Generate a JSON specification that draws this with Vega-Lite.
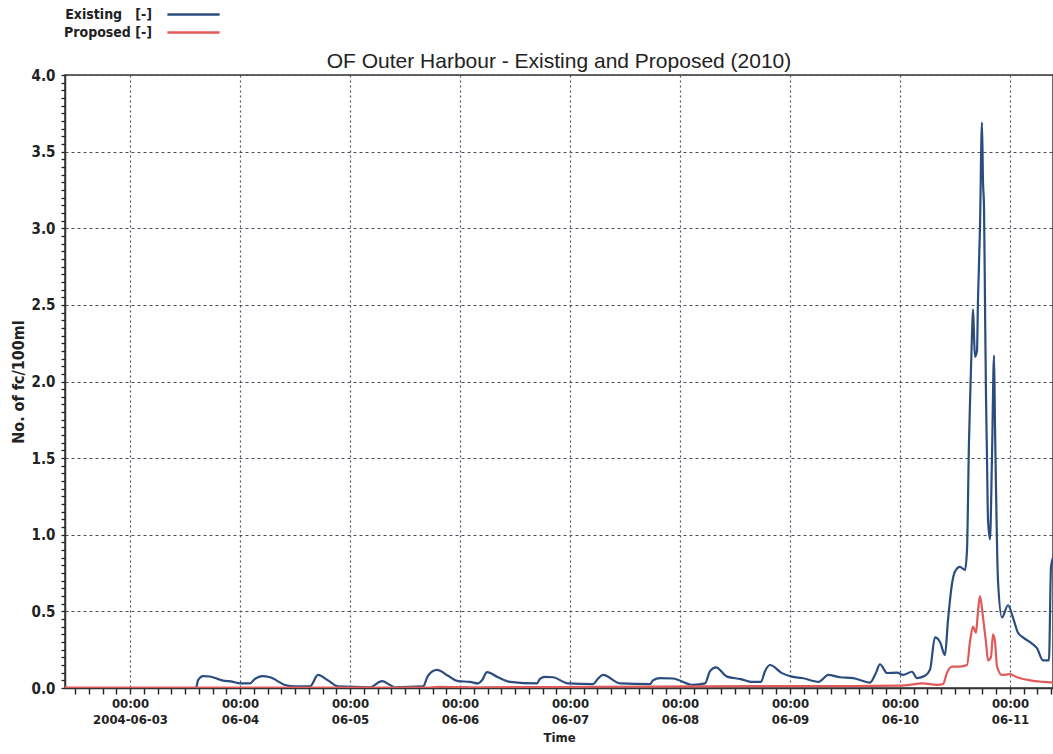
{
  "$schema": "https://vega.github.io/schema/vega-lite/v6.json",
  "width": 988,
  "height": 613,
  "autosize": {"type": "none"},
  "padding": {"left": 65, "top": 75, "right": 0, "bottom": 66},
  "background": "white",
  "config": {
    "view": {"stroke": "#333", "strokeWidth": 1.5},
    "font": "Liberation Sans"
  },
  "title": {
    "text": "OF Outer Harbour - Existing and Proposed (2010)",
    "fontSize": 21,
    "fontWeight": "normal",
    "font": "Liberation Sans",
    "color": "#222",
    "anchor": "middle",
    "offset": -68
  },
  "data": {"values": [
      {"s": "Existing [-]", "t": "2004-06-02T09:49", "v": 0},
      {"s": "Existing [-]", "t": "2004-06-03T14:24", "v": 0},
      {"s": "Existing [-]", "t": "2004-06-03T14:50", "v": 0.05},
      {"s": "Existing [-]", "t": "2004-06-03T15:56", "v": 0.078},
      {"s": "Existing [-]", "t": "2004-06-03T17:27", "v": 0.075},
      {"s": "Existing [-]", "t": "2004-06-03T20:04", "v": 0.05},
      {"s": "Existing [-]", "t": "2004-06-03T22:28", "v": 0.04},
      {"s": "Existing [-]", "t": "2004-06-04T00:00", "v": 0.03},
      {"s": "Existing [-]", "t": "2004-06-04T02:11", "v": 0.03},
      {"s": "Existing [-]", "t": "2004-06-04T03:16", "v": 0.06},
      {"s": "Existing [-]", "t": "2004-06-04T04:48", "v": 0.078},
      {"s": "Existing [-]", "t": "2004-06-04T06:33", "v": 0.07},
      {"s": "Existing [-]", "t": "2004-06-04T09:49", "v": 0.02},
      {"s": "Existing [-]", "t": "2004-06-04T12:00", "v": 0.01},
      {"s": "Existing [-]", "t": "2004-06-04T15:16", "v": 0.01},
      {"s": "Existing [-]", "t": "2004-06-04T17:01", "v": 0.085},
      {"s": "Existing [-]", "t": "2004-06-04T19:12", "v": 0.05},
      {"s": "Existing [-]", "t": "2004-06-04T21:23", "v": 0.01},
      {"s": "Existing [-]", "t": "2004-06-05T04:22", "v": 0.005},
      {"s": "Existing [-]", "t": "2004-06-05T06:59", "v": 0.045},
      {"s": "Existing [-]", "t": "2004-06-05T08:44", "v": 0.02},
      {"s": "Existing [-]", "t": "2004-06-05T09:49", "v": 0.005},
      {"s": "Existing [-]", "t": "2004-06-05T15:56", "v": 0.01},
      {"s": "Existing [-]", "t": "2004-06-05T17:01", "v": 0.08},
      {"s": "Existing [-]", "t": "2004-06-05T18:59", "v": 0.118},
      {"s": "Existing [-]", "t": "2004-06-05T21:23", "v": 0.08},
      {"s": "Existing [-]", "t": "2004-06-05T23:34", "v": 0.045},
      {"s": "Existing [-]", "t": "2004-06-06T02:11", "v": 0.04},
      {"s": "Existing [-]", "t": "2004-06-06T03:56", "v": 0.03},
      {"s": "Existing [-]", "t": "2004-06-06T04:48", "v": 0.05},
      {"s": "Existing [-]", "t": "2004-06-06T05:53", "v": 0.104},
      {"s": "Existing [-]", "t": "2004-06-06T08:17", "v": 0.07},
      {"s": "Existing [-]", "t": "2004-06-06T10:55", "v": 0.04},
      {"s": "Existing [-]", "t": "2004-06-06T16:48", "v": 0.03},
      {"s": "Existing [-]", "t": "2004-06-06T17:27", "v": 0.06},
      {"s": "Existing [-]", "t": "2004-06-06T18:33", "v": 0.072},
      {"s": "Existing [-]", "t": "2004-06-06T20:17", "v": 0.07},
      {"s": "Existing [-]", "t": "2004-06-06T23:34", "v": 0.03},
      {"s": "Existing [-]", "t": "2004-06-07T05:01", "v": 0.025},
      {"s": "Existing [-]", "t": "2004-06-07T06:06", "v": 0.06},
      {"s": "Existing [-]", "t": "2004-06-07T07:12", "v": 0.085},
      {"s": "Existing [-]", "t": "2004-06-07T10:55", "v": 0.03},
      {"s": "Existing [-]", "t": "2004-06-07T17:27", "v": 0.025},
      {"s": "Existing [-]", "t": "2004-06-07T18:06", "v": 0.05},
      {"s": "Existing [-]", "t": "2004-06-07T19:38", "v": 0.065},
      {"s": "Existing [-]", "t": "2004-06-07T22:28", "v": 0.062},
      {"s": "Existing [-]", "t": "2004-06-08T02:50", "v": 0.02},
      {"s": "Existing [-]", "t": "2004-06-08T05:27", "v": 0.03},
      {"s": "Existing [-]", "t": "2004-06-08T06:33", "v": 0.11},
      {"s": "Existing [-]", "t": "2004-06-08T07:51", "v": 0.135},
      {"s": "Existing [-]", "t": "2004-06-08T10:15", "v": 0.074},
      {"s": "Existing [-]", "t": "2004-06-08T13:18", "v": 0.058},
      {"s": "Existing [-]", "t": "2004-06-08T15:29", "v": 0.04},
      {"s": "Existing [-]", "t": "2004-06-08T17:40", "v": 0.04},
      {"s": "Existing [-]", "t": "2004-06-08T18:33", "v": 0.11},
      {"s": "Existing [-]", "t": "2004-06-08T19:38", "v": 0.15},
      {"s": "Existing [-]", "t": "2004-06-08T22:15", "v": 0.097},
      {"s": "Existing [-]", "t": "2004-06-09T00:26", "v": 0.074},
      {"s": "Existing [-]", "t": "2004-06-09T02:37", "v": 0.065},
      {"s": "Existing [-]", "t": "2004-06-09T06:20", "v": 0.04},
      {"s": "Existing [-]", "t": "2004-06-09T07:12", "v": 0.06},
      {"s": "Existing [-]", "t": "2004-06-09T08:17", "v": 0.085},
      {"s": "Existing [-]", "t": "2004-06-09T10:55", "v": 0.07},
      {"s": "Existing [-]", "t": "2004-06-09T13:45", "v": 0.065},
      {"s": "Existing [-]", "t": "2004-06-09T15:16", "v": 0.052},
      {"s": "Existing [-]", "t": "2004-06-09T17:27", "v": 0.035},
      {"s": "Existing [-]", "t": "2004-06-09T18:46", "v": 0.1},
      {"s": "Existing [-]", "t": "2004-06-09T19:38", "v": 0.155},
      {"s": "Existing [-]", "t": "2004-06-09T21:10", "v": 0.098},
      {"s": "Existing [-]", "t": "2004-06-09T23:21", "v": 0.1},
      {"s": "Existing [-]", "t": "2004-06-10T00:39", "v": 0.085},
      {"s": "Existing [-]", "t": "2004-06-10T02:37", "v": 0.106},
      {"s": "Existing [-]", "t": "2004-06-10T03:43", "v": 0.065},
      {"s": "Existing [-]", "t": "2004-06-10T05:27", "v": 0.08},
      {"s": "Existing [-]", "t": "2004-06-10T06:33", "v": 0.12},
      {"s": "Existing [-]", "t": "2004-06-10T07:38", "v": 0.33},
      {"s": "Existing [-]", "t": "2004-06-10T08:44", "v": 0.3},
      {"s": "Existing [-]", "t": "2004-06-10T09:49", "v": 0.215},
      {"s": "Existing [-]", "t": "2004-06-10T10:28", "v": 0.44},
      {"s": "Existing [-]", "t": "2004-06-10T11:21", "v": 0.68},
      {"s": "Existing [-]", "t": "2004-06-10T12:00", "v": 0.76},
      {"s": "Existing [-]", "t": "2004-06-10T13:05", "v": 0.79},
      {"s": "Existing [-]", "t": "2004-06-10T14:11", "v": 0.77},
      {"s": "Existing [-]", "t": "2004-06-10T14:37", "v": 0.9},
      {"s": "Existing [-]", "t": "2004-06-10T15:03", "v": 1.6},
      {"s": "Existing [-]", "t": "2004-06-10T15:16", "v": 1.85},
      {"s": "Existing [-]", "t": "2004-06-10T15:42", "v": 2.3},
      {"s": "Existing [-]", "t": "2004-06-10T15:56", "v": 2.47},
      {"s": "Existing [-]", "t": "2004-06-10T16:09", "v": 2.3},
      {"s": "Existing [-]", "t": "2004-06-10T16:22", "v": 2.16},
      {"s": "Existing [-]", "t": "2004-06-10T16:48", "v": 2.2},
      {"s": "Existing [-]", "t": "2004-06-10T17:01", "v": 2.53},
      {"s": "Existing [-]", "t": "2004-06-10T17:27", "v": 3.0},
      {"s": "Existing [-]", "t": "2004-06-10T17:53", "v": 3.69},
      {"s": "Existing [-]", "t": "2004-06-10T18:07", "v": 3.3},
      {"s": "Existing [-]", "t": "2004-06-10T18:20", "v": 3.14},
      {"s": "Existing [-]", "t": "2004-06-10T18:33", "v": 2.5},
      {"s": "Existing [-]", "t": "2004-06-10T18:46", "v": 1.9},
      {"s": "Existing [-]", "t": "2004-06-10T18:59", "v": 1.5},
      {"s": "Existing [-]", "t": "2004-06-10T19:12", "v": 1.1},
      {"s": "Existing [-]", "t": "2004-06-10T19:38", "v": 0.97},
      {"s": "Existing [-]", "t": "2004-06-10T20:04", "v": 1.5},
      {"s": "Existing [-]", "t": "2004-06-10T20:31", "v": 2.17},
      {"s": "Existing [-]", "t": "2004-06-10T20:44", "v": 1.7},
      {"s": "Existing [-]", "t": "2004-06-10T20:57", "v": 1.3},
      {"s": "Existing [-]", "t": "2004-06-10T21:23", "v": 0.7},
      {"s": "Existing [-]", "t": "2004-06-10T22:15", "v": 0.46},
      {"s": "Existing [-]", "t": "2004-06-10T23:34", "v": 0.54},
      {"s": "Existing [-]", "t": "2004-06-11T00:39", "v": 0.46},
      {"s": "Existing [-]", "t": "2004-06-11T01:45", "v": 0.36},
      {"s": "Existing [-]", "t": "2004-06-11T02:50", "v": 0.33},
      {"s": "Existing [-]", "t": "2004-06-11T04:48", "v": 0.29},
      {"s": "Existing [-]", "t": "2004-06-11T05:53", "v": 0.26},
      {"s": "Existing [-]", "t": "2004-06-11T07:12", "v": 0.18},
      {"s": "Existing [-]", "t": "2004-06-11T08:30", "v": 0.18},
      {"s": "Existing [-]", "t": "2004-06-11T08:57", "v": 0.79},
      {"s": "Existing [-]", "t": "2004-06-11T09:23", "v": 0.85},
      {"s": "Proposed [-]", "t": "2004-06-02T09:49", "v": 0.003},
      {"s": "Proposed [-]", "t": "2004-06-05T17:27", "v": 0.003},
      {"s": "Proposed [-]", "t": "2004-06-05T19:38", "v": 0.008},
      {"s": "Proposed [-]", "t": "2004-06-06T04:22", "v": 0.005},
      {"s": "Proposed [-]", "t": "2004-06-06T17:27", "v": 0.006},
      {"s": "Proposed [-]", "t": "2004-06-07T06:33", "v": 0.008},
      {"s": "Proposed [-]", "t": "2004-06-08T04:22", "v": 0.01},
      {"s": "Proposed [-]", "t": "2004-06-08T19:38", "v": 0.012},
      {"s": "Proposed [-]", "t": "2004-06-09T13:05", "v": 0.012},
      {"s": "Proposed [-]", "t": "2004-06-10T00:00", "v": 0.015},
      {"s": "Proposed [-]", "t": "2004-06-10T05:01", "v": 0.03},
      {"s": "Proposed [-]", "t": "2004-06-10T08:05", "v": 0.02},
      {"s": "Proposed [-]", "t": "2004-06-10T09:23", "v": 0.025},
      {"s": "Proposed [-]", "t": "2004-06-10T10:15", "v": 0.1},
      {"s": "Proposed [-]", "t": "2004-06-10T11:21", "v": 0.14},
      {"s": "Proposed [-]", "t": "2004-06-10T13:05", "v": 0.14},
      {"s": "Proposed [-]", "t": "2004-06-10T14:37", "v": 0.15},
      {"s": "Proposed [-]", "t": "2004-06-10T15:16", "v": 0.3},
      {"s": "Proposed [-]", "t": "2004-06-10T15:56", "v": 0.4},
      {"s": "Proposed [-]", "t": "2004-06-10T16:35", "v": 0.36},
      {"s": "Proposed [-]", "t": "2004-06-10T17:01", "v": 0.5},
      {"s": "Proposed [-]", "t": "2004-06-10T17:27", "v": 0.6},
      {"s": "Proposed [-]", "t": "2004-06-10T18:07", "v": 0.46},
      {"s": "Proposed [-]", "t": "2004-06-10T18:46", "v": 0.3},
      {"s": "Proposed [-]", "t": "2004-06-10T19:12", "v": 0.18},
      {"s": "Proposed [-]", "t": "2004-06-10T19:51", "v": 0.2},
      {"s": "Proposed [-]", "t": "2004-06-10T20:17", "v": 0.35},
      {"s": "Proposed [-]", "t": "2004-06-10T20:44", "v": 0.3},
      {"s": "Proposed [-]", "t": "2004-06-10T21:10", "v": 0.14},
      {"s": "Proposed [-]", "t": "2004-06-10T22:15", "v": 0.085},
      {"s": "Proposed [-]", "t": "2004-06-11T00:00", "v": 0.09},
      {"s": "Proposed [-]", "t": "2004-06-11T01:32", "v": 0.07},
      {"s": "Proposed [-]", "t": "2004-06-11T04:22", "v": 0.05},
      {"s": "Proposed [-]", "t": "2004-06-11T07:12", "v": 0.04},
      {"s": "Proposed [-]", "t": "2004-06-11T09:23", "v": 0.035}
  ]},
  "mark": {"type": "line", "strokeWidth": 2.2, "clip": true, "interpolate": "monotone"},
  "encoding": {
    "x": {
      "field": "t",
      "type": "temporal",
      "scale": {"domain": ["2004-06-02T09:49", "2004-06-11T09:23"], "nice": false},
      "axis": {
        "orient": "bottom",
        "tickCount": {"interval": "hours", "step": 3},
        "labelExpr": "hours(datum.value) == 0 ? [timeFormat(datum.value, '%H:%M'), timeFormat(datum.value, '%d') == '03' ? timeFormat(datum.value, '%Y-%m-%d') : timeFormat(datum.value, '%m-%d')] : ''",
        "labelFont": "DejaVu Sans Condensed, Liberation Sans",
        "labelFontWeight": "bold",
        "labelFontSize": 13,
        "labelColor": "#222",
        "labelLineHeight": 16,
        "labelPadding": 3,
        "labelFlush": false,
        "labelOverlap": false,
        "tickSize": 6,
        "tickColor": "#222",
        "tickWidth": 1.4,
        "domainColor": "#333",
        "domainWidth": 1.5,
        "grid": true,
        "gridOpacity": {"condition": {"test": "hours(datum.value) == 0", "value": 1}, "value": 0},
        "gridColor": "#4a5060",
        "gridDash": [2, 3],
        "gridWidth": 1.2,
        "title": "Time",
        "titleFont": "DejaVu Sans Condensed, Liberation Sans",
        "titleFontWeight": "bold",
        "titleFontSize": 13,
        "titleColor": "#222",
        "titlePadding": 5
      }
    },
    "y": {
      "field": "v",
      "type": "quantitative",
      "scale": {"domain": [0, 4], "nice": false},
      "axis": {
        "orient": "left",
        "values": [0, 0.05, 0.1, 0.15, 0.2, 0.25, 0.3, 0.35, 0.4, 0.45, 0.5, 0.55, 0.6, 0.65, 0.7, 0.75, 0.8, 0.85, 0.9, 0.95, 1, 1.05, 1.1, 1.15, 1.2, 1.25, 1.3, 1.35, 1.4, 1.45, 1.5, 1.55, 1.6, 1.65, 1.7, 1.75, 1.8, 1.85, 1.9, 1.95, 2, 2.05, 2.1, 2.15, 2.2, 2.25, 2.3, 2.35, 2.4, 2.45, 2.5, 2.55, 2.6, 2.65, 2.7, 2.75, 2.8, 2.85, 2.9, 2.95, 3, 3.05, 3.1, 3.15, 3.2, 3.25, 3.3, 3.35, 3.4, 3.45, 3.5, 3.55, 3.6, 3.65, 3.7, 3.75, 3.8, 3.85, 3.9, 3.95, 4],
        "labelExpr": "abs(datum.value * 2 - round(datum.value * 2)) < 0.001 ? format(datum.value, '.1f') : ''",
        "labelFont": "DejaVu Sans Condensed, Liberation Sans",
        "labelFontWeight": "bold",
        "labelFontSize": 15,
        "labelColor": "#222",
        "labelPadding": 6,
        "labelOverlap": false,
        "labelFlush": false,
        "tickSize": 4,
        "tickColor": "#222",
        "tickWidth": 1.3,
        "domainColor": "#333",
        "domainWidth": 1.5,
        "grid": true,
        "gridOpacity": {"condition": {"test": "abs(datum.value * 2 - round(datum.value * 2)) < 0.001", "value": 1}, "value": 0},
        "gridColor": "#4a5060",
        "gridDash": [3, 3],
        "gridWidth": 1.2,
        "title": "No. of fc/100ml",
        "titleFont": "DejaVu Sans Condensed, Liberation Sans",
        "titleFontWeight": "bold",
        "titleFontSize": 16,
        "titleColor": "#222",
        "titlePadding": 5
      }
    },
    "color": {
      "field": "s",
      "type": "nominal",
      "scale": {"domain": ["Existing [-]", "Proposed [-]"], "range": ["#2b4c7e", "#e05a5a"]},
      "legend": {
        "orient": "none",
        "legendX": 118,
        "legendY": -71,
        "title": null,
        "padding": 0,
        "rowPadding": 0,
        "symbolType": "M-2.9,0H2.9",
        "symbolSize": 324,
        "symbolStrokeWidth": 2.5,
        "labelAlign": "right",
        "labelOffset": -52,
        "labelExpr": "datum.label == 'Existing [-]' ? 'Existing\u00a0\u00a0\u00a0[-]' : datum.label",
        "labelFont": "DejaVu Sans Condensed, Liberation Sans",
        "labelFontWeight": "bold",
        "labelFontSize": 14,
        "labelColor": "#222",
        "labelLimit": 0
      }
    }
  }
}
